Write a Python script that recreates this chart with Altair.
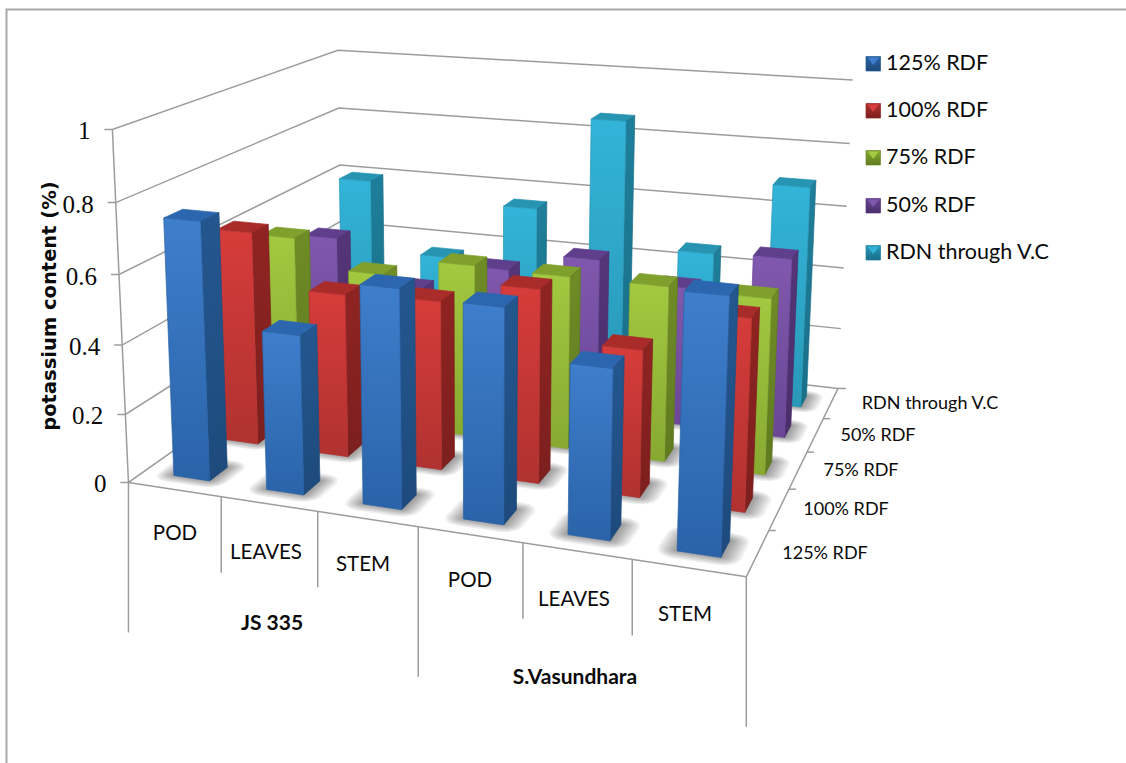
import altair as alt
import numpy as np

# --- chart values ---
groups = ["JS 335", "S.Vasundhara"]
parts = ["POD", "LEAVES", "STEM", "POD", "LEAVES", "STEM"]
series = ["125% RDF", "100% RDF", "75% RDF", "50% RDF", "RDN through V.C"]
rdf_125 = [0.745, 0.455, 0.615, 0.595, 0.465, 0.685]
rdf_100 = [0.64, 0.485, 0.495, 0.56, 0.42, 0.54]
rdf_75 = [0.555, 0.47, 0.525, 0.52, 0.52, 0.515]
rdf_50 = [0.478, 0.34, 0.43, 0.49, 0.43, 0.548]
rdn_vc = [0.605, 0.37, 0.56, 0.865, 0.465, 0.70]
value_ticks = [0, 0.2, 0.4, 0.6, 0.8, 1]

levels = [rdf_125, rdf_100, rdf_75, rdf_50, rdn_vc]

# face colours per series: front top, front bottom, side top, side bottom, top
palette = [
    ("#3f7ecc", "#2a63a8", "#24578f", "#1e4a7c", "#2c66ae"),
    ("#d63c3a", "#b03230", "#8f2422", "#7c1f1e", "#a92c2a"),
    ("#a2c940", "#87a932", "#6f8c26", "#5f7a20", "#7fa02c"),
    ("#8058ad", "#6b4797", "#553578", "#4a2e6a", "#5f3f8c"),
    ("#32b4d8", "#2a98b8", "#1f7f9b", "#1a6f88", "#2794b2"),
]

# --- camera: a 3x4 perspective matrix fitted to the box of the plot ---
# (category position, depth position, value) -> page pixel
anchors = [
    ((0, 0, 0), (129, 483)), ((0, 0, .2), (126, 415)), ((0, 0, .4), (123, 344)),
    ((0, 0, .6), (119, 274)), ((0, 0, .8), (116, 202)), ((0, 0, 1), (112, 130)),
    ((1, 0, 0), (221, 497)), ((2, 0, 0), (317, 512)), ((3, 0, 0), (417, 527)),
    ((4, 0, 0), (523, 543)), ((5, 0, 0), (632, 560)), ((6, 0, 0), (745, 577)),
    ((0, 5, .6), (340, 165)), ((0, 5, .8), (338, 108)), ((0, 5, 1), (338, 50)),
    ((6, 5, 0), (837, 389)), ((6, 5, .2), (840, 329)), ((6, 5, .4), (843, 268)),
    ((6, 5, .6), (847, 207)), ((6, 5, .8), (850, 144)), ((6, 5, 1), (853, 80)),
    ((6, 1, 0), (769, 530)), ((6, 2, 0), (790, 488)), ((6, 3, 0), (808, 451)),
    ((6, 4, 0), (825, 418)),
]
rows, rhs = [], []
for (u, v, w), (px, py) in anchors:
    rows.append([u, v, w, 1, 0, 0, 0, 0, -px * u, -px * v, -px * w])
    rhs.append(px)
    rows.append([0, 0, 0, 0, u, v, w, 1, -py * u, -py * v, -py * w])
    rhs.append(py)
coef = np.linalg.lstsq(np.array(rows, float), np.array(rhs, float), rcond=None)[0]
camera = np.append(coef, 1.0).reshape(3, 4)


def project(u, v, w=0.0):
    x, y, h = camera @ np.array([u, v, w, 1.0])
    return [float(x / h), float(y / h)]


def polygon(points, **props):
    ring = points + [points[0]]
    return {"type": "Feature", "properties": props,
            "geometry": {"type": "Polygon", "coordinates": [ring]}}


def polyline(points):
    return {"type": "Feature", "properties": {},
            "geometry": {"type": "LineString", "coordinates": points}}


def vertical(top, bottom):
    return {"gradient": "linear", "x1": 0, "y1": 0, "x2": 0, "y2": 1,
            "stops": [{"offset": 0, "color": top}, {"offset": 1, "color": bottom}]}


def floor_halo(u0, u1, v0, v1, r):
    # rounded outline of a bar's footprint, grown by r on the floor
    corners = [(u0, v0, 180), (u1, v0, 270), (u1, v1, 0), (u0, v1, 90)]
    ring = []
    for cu, cv, start in corners:
        for a in (0, 30, 60, 90):
            t = np.radians(start + a)
            ring.append(project(cu + r * np.cos(t), cv + r * np.sin(t)))
    return ring


# --- bars, painted from the back row to the front ---
HALF_W, HALF_D = 0.195, 0.18
COLUMN_CENTRE = 0.52
ROW_CENTRES = [0.48, 0.50, 0.45, 0.50, 0.45]
SHADOW_STEPS = [0.02, 0.04, 0.06, 0.08, 0.10, 0.125, 0.15, 0.175]
bars = []
for j in reversed(range(len(series))):
    ft, fb, st, sb, tp = palette[j]
    for i, value in enumerate(levels[j]):
        u0, u1 = i + COLUMN_CENTRE - HALF_W, i + COLUMN_CENTRE + HALF_W
        v0, v1 = j + ROW_CENTRES[j] - HALF_D, j + ROW_CENTRES[j] + HALF_D
        for e in reversed(SHADOW_STEPS):
            bars.append(polygon(floor_halo(u0, u1, v0 + 0.02, v1, e),
                                fill="#555555", edge="transparent", op=0.09))
        # top face, right side, front face
        bars.append(polygon(
            [project(u0, v0, value), project(u1, v0, value),
             project(u1, v1, value), project(u0, v1, value)],
            fill=tp, edge=tp, op=1))
        bars.append(polygon(
            [project(u1, v0, value), project(u1, v1, value),
             project(u1, v1), project(u1, v0)],
            fill=vertical(st, sb), edge=sb, op=1))
        bars.append(polygon(
            [project(u0, v0, value), project(u1, v0, value),
             project(u1, v0), project(u0, v0)],
            fill=vertical(ft, fb), edge=fb, op=1))

# --- legend swatches ---
legend_rows = [64, 111, 158, 206, 253]
for (ft, fb, st, sb, tp), cy in zip(palette, legend_rows):
    left, right, top, bottom = 866, 880.5, cy - 7.5, cy + 7
    bars.append(polygon([[left, top], [right, top], [right, bottom], [left, bottom]],
                        fill=vertical(fb, sb), edge=st, op=1))
    bars.append(polygon([[left + 1.5, top + 1], [right - 1.5, top + 1],
                         [(left + right) / 2, cy + 1]],
                        fill=vertical(ft, ft), edge="transparent", op=1))

# --- walls, floor and axis lines ---
grid = []
for w in value_ticks:
    grid.append(polyline([[project(0, 0, w)[0] - 8, project(0, 0, w)[1]],
                          project(0, 0, w), project(0, 5, w), project(6, 5, w)]))
grid.append(polyline([project(0, 0), project(0, 0, 1)]))
grid.append(polyline([project(0, 0), project(6, 0)]))
grid.append(polyline([project(6, 0), project(6, 5),
                      [project(6, 5)[0] + 8, project(6, 5)[1]]]))
for j in range(1, 5):
    p = project(6, j)
    grid.append(polyline([p, [p[0] + 7, p[1]]]))
for i in range(7):
    p = project(i, 0)
    drop = 150 if i % 3 == 0 else 76
    grid.append(polyline([p, [p[0], p[1] + drop]]))
frame = [polyline([[6.5, 763], [6.5, 9.5], [1126, 9.5]])]

identity = alt.Projection(type="identity", scale=1, translate=[0, 0]).to_dict()

lines_layer = alt.Chart(alt.Data(values=grid)).mark_geoshape(
    filled=False, stroke="#9c9c9c", strokeWidth=1.5
).project(**identity)

frame_layer = alt.Chart(alt.Data(values=frame)).mark_geoshape(
    filled=False, stroke="#a9a9a9", strokeWidth=2
).project(**identity)

bars_layer = alt.Chart(alt.Data(values=bars)).mark_geoshape(strokeWidth=0.7).encode(
    fill=alt.Fill("properties.fill:N", scale=None),
    stroke=alt.Stroke("properties.edge:N", scale=None),
    opacity=alt.Opacity("properties.op:Q", scale=None),
).project(**identity)


def text_layer(items, font, size, color="#0a0a0a", weight="normal", align="center", angle=0):
    return alt.Chart(alt.Data(values=[{"t": t, "px": x, "py": y} for t, x, y in items])).mark_text(
        font=font, fontSize=size, color=color, fontWeight=weight, align=align,
        baseline="middle", angle=angle,
    ).encode(
        x=alt.X("px:Q", scale=None, axis=None),
        y=alt.Y("py:Q", scale=None, axis=None),
        text="t:N",
    )


# value axis labels sit just left of the axis line
value_items = []
for w in value_ticks:
    px, py = project(0, 0, w)
    value_items.append((f"{w:g}", px - 22, py + 2))

part_centres = [(175, 534), (266, 553), (363, 565), (470, 581), (574, 600), (685, 615)]
part_items = [(t, x, y) for t, (x, y) in zip(parts, part_centres)]
group_items = [(groups[0], 272, 624), (groups[1], 575, 678)]
legend_items = [(t, 886, y) for t, y in zip(series, legend_rows)]
depth_centres = [(825, 554), (846, 510), (861, 471), (878, 436), (930, 404)]
depth_items = [(t, x, y) for t, (x, y) in zip(series, depth_centres)]

chart = alt.layer(
    frame_layer,
    lines_layer,
    bars_layer,
    text_layer(value_items, "Liberation Serif", 25, align="right"),
    text_layer([("potassium content (%)", 50, 306)], "DejaVu Sans", 19.5, weight="bold", angle=270),
    text_layer(part_items, "Lato", 20.5),
    text_layer(group_items, "Lato", 21, weight="bold"),
    text_layer(legend_items, "Lato", 21.5, align="left"),
    text_layer(depth_items, "Lato", 18),
).properties(
    width=1126, height=763, padding=0,
    autosize=alt.AutoSizeParams(type="none"),
    background="white",
).configure_view(stroke=None)

chart.save("out.html", embed_options={"renderer": "svg", "actions": False})
